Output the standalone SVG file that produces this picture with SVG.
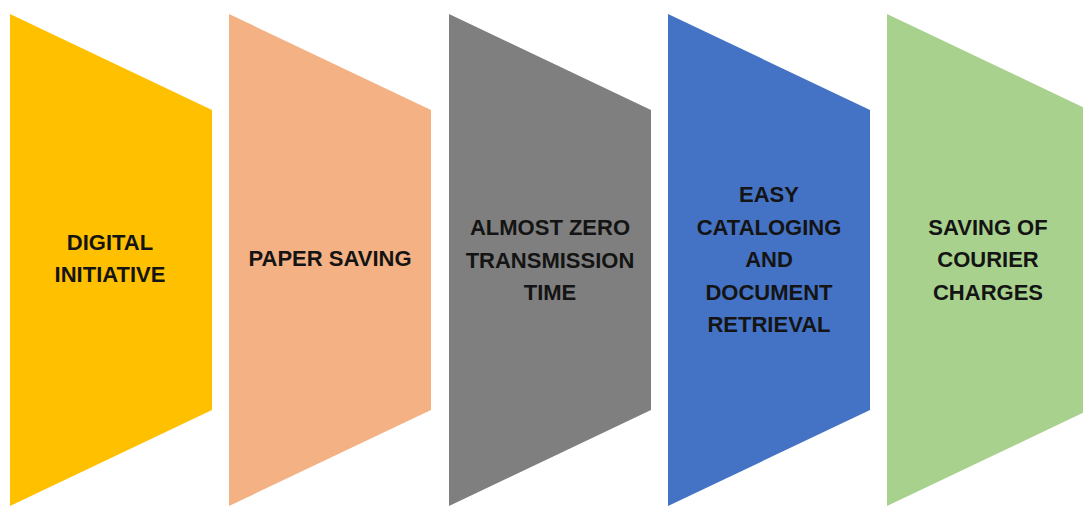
<svg xmlns="http://www.w3.org/2000/svg" width="1083" height="507" viewBox="0 0 1083 507">
<style>
.lbl{font-family:"Liberation Sans",Arial,sans-serif;font-weight:bold;font-size:22px;fill:#141414;text-anchor:middle}
</style>
<defs>
<polygon id="chev" points="0,14 202,110 202,410 0,506"/>
</defs>
<rect width="1083" height="507" fill="#ffffff"/>
<g id="node1">
<use href="#chev" x="10" fill="#FFC000"/>
<text class="lbl" x="110" y="250">DIGITAL</text>
<text class="lbl" x="110" y="282">INITIATIVE</text>
</g>
<g id="node2">
<use href="#chev" x="229" fill="#F4B183"/>
<text class="lbl" x="330" y="266">PAPER SAVING</text>
</g>
<g id="node3">
<use href="#chev" x="449" fill="#7F7F7F"/>
<text class="lbl" x="550" y="235">ALMOST ZERO</text>
<text class="lbl" x="550" y="268">TRANSMISSION</text>
<text class="lbl" x="550" y="300">TIME</text>
</g>
<g id="node4">
<use href="#chev" x="668" fill="#4472C4"/>
<text class="lbl" x="769" y="202">EASY</text>
<text class="lbl" x="769" y="235">CATALOGING</text>
<text class="lbl" x="769" y="267">AND</text>
<text class="lbl" x="769" y="300">DOCUMENT</text>
<text class="lbl" x="769" y="332">RETRIEVAL</text>
</g>
<g id="node5">
<use href="#chev" x="887" fill="#A9D18E"/>
<text class="lbl" x="988" y="235">SAVING OF</text>
<text class="lbl" x="988" y="267">COURIER</text>
<text class="lbl" x="988" y="300">CHARGES</text>
</g>
<g id="connectors"/>
</svg>
